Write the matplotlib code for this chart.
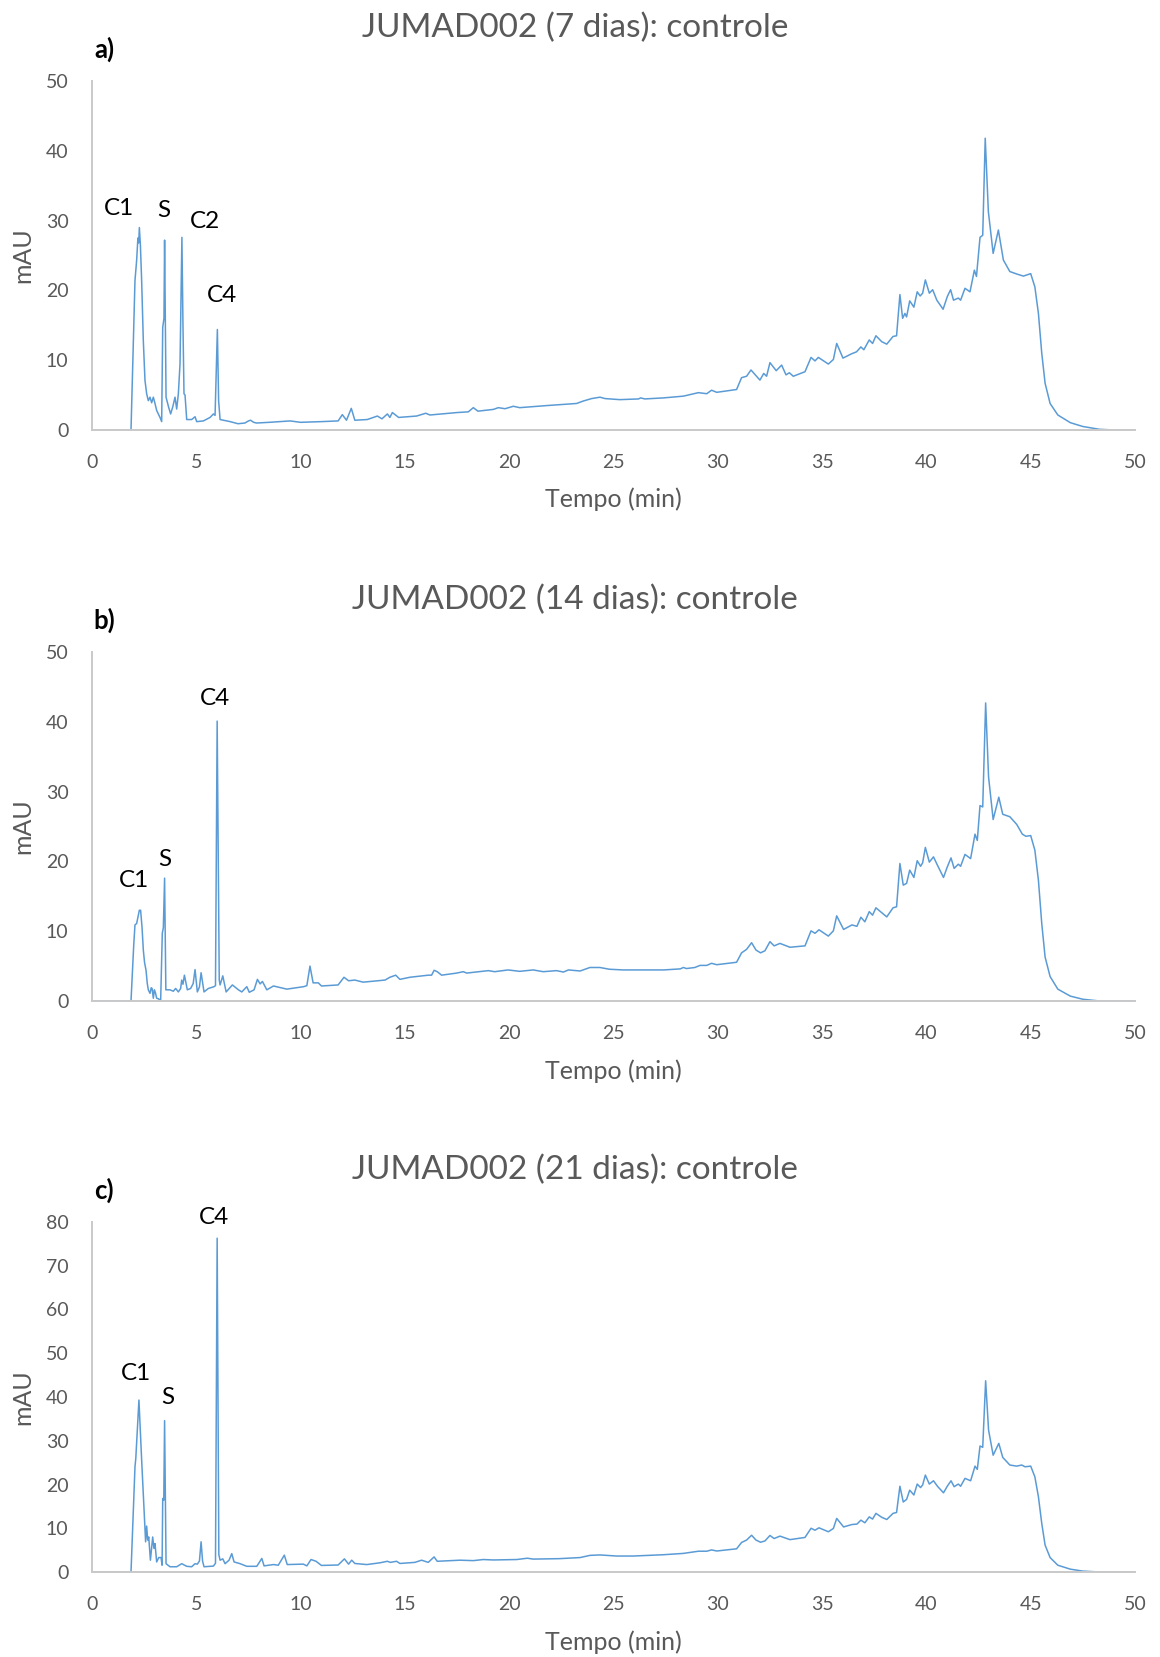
import matplotlib
matplotlib.use("Agg")
import matplotlib.pyplot as plt
import numpy as np

# chromatogram points (tempo in min, mAU)
t_a = [0, 1.87, 2.06, 2.14, 2.2, 2.24, 2.27, 2.32, 2.38, 2.46, 2.54, 2.62, 2.7, 2.78, 2.86, 2.94,
       3.02, 3.1, 3.18, 3.26, 3.34, 3.39, 3.45, 3.48, 3.55, 3.61, 3.67, 3.77, 3.87, 3.98, 4.06,
       4.14, 4.22, 4.28, 4.31, 4.36, 4.41, 4.46, 4.54, 4.78, 4.94, 5.02, 5.34, 5.66, 5.82, 5.9,
       6.01, 6.07, 6.14, 6.62, 7.0, 7.33, 7.5, 7.6, 7.75, 7.89, 8.5, 9.5, 10.0, 11.0, 11.8, 12.0,
       12.2, 12.43, 12.6, 13.2, 13.68, 13.9, 14.16, 14.28, 14.4, 14.7, 15.56, 16.0, 16.2, 17.5,
       18.04, 18.28, 18.5, 19.24, 19.48, 19.8, 20.2, 20.5, 21.8, 23.23, 23.55, 23.95, 24.35,
       24.6, 25.3, 26.2, 26.3, 26.5, 27.4, 28.35, 29.07, 29.47, 29.7, 29.95, 30.9, 31.14, 31.38,
       31.59, 32.02, 32.2, 32.34, 32.5, 32.8, 33.06, 33.27, 33.43, 33.62, 34.18, 34.47, 34.66,
       34.82, 35.3, 35.54, 35.7, 36.0, 36.4, 36.65, 36.86, 37.0, 37.26, 37.42, 37.58, 37.86,
       38.1, 38.4, 38.57, 38.73, 38.86, 38.97, 39.05, 39.2, 39.4, 39.56, 39.7, 39.82, 39.95,
       40.14, 40.3, 40.5, 40.8, 41.0, 41.16, 41.3, 41.53, 41.64, 41.85, 42.09, 42.3, 42.4,
       42.57, 42.7, 42.82, 42.97, 43.2, 43.45, 43.69, 44.0, 44.33, 44.65, 45.0, 45.2, 45.37,
       45.53, 45.69, 45.93, 46.3, 46.9, 47.5, 48.3, 49.0, 50.0]
y_a = [0, 0, 21.4, 24.3, 27.5, 26.8, 29.0, 26.5, 21.4, 12.8, 7.1, 5.2, 4.2, 4.7, 3.9, 4.7,
       3.8, 2.8, 2.3, 1.8, 1.2, 14.7, 16.0, 27.2, 4.7, 4.0, 3.3, 2.3, 3.3, 4.7, 3.0,
       5.2, 9.5, 21.4, 27.6, 15.2, 5.2, 5.0, 1.5, 1.5, 1.9, 1.2, 1.3, 1.8, 2.3, 2.1,
       14.4, 4.2, 1.5, 1.2, 0.9, 1.0, 1.3, 1.4, 1.1, 1.0, 1.1, 1.3, 1.1, 1.2, 1.3, 2.2,
       1.4, 3.1, 1.4, 1.5, 2.0, 1.6, 2.3, 1.8, 2.5, 1.8, 2.0, 2.4, 2.15, 2.5,
       2.6, 3.2, 2.7, 2.95, 3.2, 3.05, 3.4, 3.2, 3.5, 3.8, 4.15, 4.5, 4.7,
       4.5, 4.35, 4.45, 4.6, 4.45, 4.6, 4.85, 5.35, 5.2, 5.7, 5.4, 5.8, 7.5, 7.7,
       8.6, 7.15, 8.1, 7.7, 9.65, 8.5, 9.3, 7.9, 8.2, 7.7, 8.35, 10.4, 9.9,
       10.4, 9.45, 10.1, 12.4, 10.3, 10.9, 11.2, 11.9, 11.5, 12.9, 12.4, 13.5, 12.65,
       12.3, 13.4, 13.5, 19.4, 16.0, 16.7, 16.2, 18.5, 17.6, 19.8, 19.2, 19.6, 21.5,
       19.6, 20.1, 18.6, 17.3, 19.1, 20.1, 18.6, 18.9, 18.6, 20.3, 19.8, 22.9, 22.0,
       27.6, 27.9, 41.8, 31.3, 25.3, 28.65, 24.35, 22.7, 22.35, 22.05, 22.4, 20.5, 16.7,
       11.0, 6.7, 3.8, 2.15, 1.05, 0.5, 0.1, 0.0, 0.0]

t_b = [0, 1.87, 2.0, 2.06, 2.14, 2.2, 2.27, 2.33, 2.4, 2.46, 2.52, 2.59, 2.65, 2.7, 2.78, 2.84,
       2.88, 2.94, 2.99, 3.04, 3.1, 3.2, 3.29, 3.37, 3.42, 3.48, 3.54, 3.74, 3.9, 4.01, 4.14,
       4.25, 4.3, 4.36, 4.43, 4.57, 4.73, 4.85, 4.94, 5.05, 5.15, 5.23, 5.37, 5.58, 5.85, 5.92,
       6.0, 6.1, 6.14, 6.27, 6.43, 6.73, 7.02, 7.18, 7.42, 7.54, 7.77, 7.93, 8.06, 8.17, 8.38,
       8.7, 9.34, 10.14, 10.3, 10.45, 10.6, 10.85, 11.0, 11.8, 12.08, 12.3, 12.6, 13.0, 14.05,
       14.28, 14.56, 14.76, 15.24, 16.12, 16.28, 16.4, 16.55, 16.76, 17.48, 17.8, 17.96, 19.0,
       19.3, 19.95, 20.5, 21.15, 21.63, 22.27, 22.6, 22.84, 23.4, 23.87, 24.35, 24.8, 25.47,
       26.43, 27.4, 28.2, 28.35, 28.5, 28.9, 29.15, 29.47, 29.7, 29.95, 30.9, 31.14, 31.38,
       31.62, 31.83, 32.05, 32.26, 32.5, 32.7, 32.98, 33.46, 34.18, 34.47, 34.66, 34.85, 35.3,
       35.54, 35.7, 36.03, 36.43, 36.67, 36.86, 37.05, 37.26, 37.42, 37.58, 37.86, 38.1, 38.4,
       38.57, 38.73, 38.89, 39.05, 39.2, 39.4, 39.56, 39.72, 39.82, 39.95, 40.14, 40.34, 40.53,
       40.82, 41.0, 41.18, 41.33, 41.53, 41.64, 41.85, 42.12, 42.33, 42.44, 42.57, 42.7, 42.84,
       42.98, 43.2, 43.47, 43.66, 44.0, 44.33, 44.6, 44.77, 45.0, 45.2, 45.37, 45.53, 45.69,
       45.93, 46.3, 46.9, 47.5, 48.3, 50.0]
y_b = [0, 0, 8.0, 10.9, 11.1, 12.0, 13.0, 13.0, 10.5, 7.3, 5.5, 4.4, 2.5, 1.6, 1.1, 1.9,
       1.8, 0.4, 1.6, 1.2, 0.4, 0.3, -0.1, 9.7, 10.5, 17.6, 1.6, 1.6, 1.4, 1.8, 1.3,
       1.8, 3.0, 2.4, 3.7, 1.6, 1.8, 2.5, 4.5, 1.3, 2.0, 4.05, 1.3, 1.8, 2.05, 2.2,
       40.1, 3.0, 2.3, 3.6, 1.3, 2.3, 1.6, 1.3, 2.05, 1.25, 1.6, 3.1, 2.45, 2.8, 1.6,
       2.15, 1.7, 2.05, 2.2, 5.0, 2.6, 2.6, 2.15, 2.3, 3.4, 2.9, 3.0, 2.7, 3.0,
       3.4, 3.7, 3.1, 3.4, 3.7, 3.7, 4.4, 4.2, 3.7, 4.0, 4.2, 4.0, 4.35,
       4.2, 4.45, 4.25, 4.45, 4.2, 4.35, 4.15, 4.45, 4.3, 4.8, 4.8, 4.55, 4.45,
       4.45, 4.45, 4.6, 4.8, 4.65, 4.8, 5.1, 5.1, 5.4, 5.2, 5.55, 6.9, 7.4,
       8.35, 7.3, 6.9, 7.2, 8.5, 7.9, 8.25, 7.7, 7.9, 10.05, 9.7, 10.2, 9.3,
       10.05, 12.2, 10.25, 10.9, 10.7, 12.0, 11.35, 12.8, 12.3, 13.35, 12.65, 12.05, 13.35,
       13.5, 19.7, 16.6, 16.85, 18.75, 17.7, 20.1, 19.3, 19.8, 22.0, 19.9, 20.65, 19.45,
       17.7, 19.2, 20.5, 19.0, 19.6, 19.3, 21.0, 20.4, 23.9, 23.0, 28.0, 27.8, 42.7,
       32.1, 26.0, 29.2, 26.75, 26.4, 25.3, 23.9, 23.6, 23.7, 21.6, 17.3, 11.1, 6.3,
       3.5, 1.7, 0.7, 0.25, 0.0, 0.0]

t_c = [0, 1.87, 2.06, 2.1, 2.25, 2.38, 2.51, 2.57, 2.62, 2.67, 2.72, 2.8, 2.91, 2.97, 3.02,
       3.1, 3.2, 3.31, 3.36, 3.39, 3.44, 3.48, 3.55, 3.74, 4.06, 4.3, 4.54, 4.78, 4.94, 5.05,
       5.15, 5.23, 5.3, 5.37, 5.82, 5.92, 6.0, 6.08, 6.14, 6.27, 6.38, 6.57, 6.7, 6.81, 7.1,
       7.42, 7.9, 8.14, 8.25, 8.7, 8.93, 9.22, 9.36, 10.13, 10.3, 10.5, 10.74, 11.0, 11.8,
       12.1, 12.3, 12.45, 12.6, 13.17, 13.8, 14.16, 14.3, 14.6, 14.76, 15.48, 15.8, 16.12,
       16.4, 16.55, 17.64, 18.28, 18.76, 19.24, 20.36, 20.87, 21.15, 22.4, 23.4, 23.87, 24.35,
       25.15, 25.95, 27.4, 28.35, 29.07, 29.47, 29.7, 29.95, 30.9, 31.14, 31.38, 31.62, 31.83,
       32.05, 32.26, 32.5, 32.7, 32.98, 33.46, 34.18, 34.47, 34.66, 34.85, 35.3, 35.54, 35.7,
       36.03, 36.43, 36.67, 36.86, 37.05, 37.26, 37.42, 37.58, 37.86, 38.1, 38.4, 38.57, 38.73,
       38.89, 39.05, 39.2, 39.4, 39.56, 39.72, 39.82, 39.95, 40.14, 40.34, 40.53, 40.82, 41.0,
       41.18, 41.33, 41.53, 41.64, 41.85, 42.12, 42.33, 42.44, 42.57, 42.7, 42.84, 42.98, 43.2,
       43.47, 43.66, 44.0, 44.33, 44.57, 44.73, 45.0, 45.2, 45.37, 45.53, 45.69, 45.93, 46.3,
       46.9, 47.5, 48.3, 50.0]
y_c = [0, 0, 24.0, 26.0, 39.3, 25.6, 12.6, 6.9, 10.5, 7.3, 8.0, 2.7, 8.0, 5.4, 6.5,
       2.3, 3.3, 3.3, 1.55, 16.8, 16.4, 34.6, 1.9, 1.2, 1.2, 1.9, 1.3, 1.2, 1.9, 1.8,
       2.5, 6.9, 2.5, 1.2, 1.35, 2.0, 76.3, 4.0, 2.7, 3.0, 1.9, 2.7, 4.2, 2.3, 1.9,
       1.3, 1.3, 3.1, 1.4, 1.7, 1.55, 3.85, 1.7, 1.8, 1.4, 2.85, 2.45, 1.5, 1.6,
       3.0, 1.8, 2.7, 1.95, 1.7, 2.1, 2.45, 2.2, 2.45, 1.95, 2.2, 2.7, 2.2,
       3.45, 2.45, 2.7, 2.6, 2.85, 2.75, 2.85, 3.15, 2.95, 3.05, 3.3, 3.8, 3.9,
       3.65, 3.65, 3.95, 4.25, 4.75, 4.75, 5.05, 4.8, 5.3, 6.75, 7.3, 8.4, 7.3,
       6.8, 7.1, 8.35, 7.65, 8.2, 7.4, 7.9, 10.0, 9.55, 10.1, 9.2, 9.95, 12.25,
       10.3, 10.85, 10.95, 11.85, 11.25, 12.6, 12.1, 13.4, 12.5, 12.0, 13.4, 13.6, 19.6,
       16.0, 16.6, 18.7, 17.6, 20.1, 19.3, 19.9, 22.15, 20.1, 20.85, 19.6, 18.1, 19.6,
       20.85, 19.5, 20.1, 19.6, 21.4, 20.85, 24.2, 23.45, 28.8, 28.5, 43.7, 32.45, 26.7,
       29.4, 26.2, 24.45, 24.2, 24.45, 24.05, 24.2, 21.75, 17.2, 11.1, 6.15, 3.3, 1.55,
       0.65, 0.2, 0.0, 0.0]

titles = ["JUMAD002 (7 dias): controle", "JUMAD002 (14 dias): controle", "JUMAD002 (21 dias): controle"]
panel_letters = ["a)", "b)", "c)"]
y_max = [50, 50, 80]
y_step = [10, 10, 10]
peak_labels = [
    [("C1", 1.30, 31.7), ("S", 3.44, 31.5), ("C2", 5.42, 29.8), ("C4", 6.21, 19.2)],
    [("C1", 1.99, 17.2), ("S", 3.48, 20.3), ("C4", 5.90, 43.4)],
    [("C1", 2.10, 45.4), ("S", 3.63, 39.8), ("C4", 5.87, 81.1)],
]
series = [(t_a, y_a), (t_b, y_b), (t_c, y_c)]

W, H = 1160, 1657
plt.rcParams["font.family"] = ["Lato", "DejaVu Sans"]
fig = plt.figure(figsize=(W / 100, H / 100), dpi=100)

# axes boxes in pixels: left, right, top, bottom
boxes = [(92, 1135, 81, 430), (92, 1135, 652, 1001), (92, 1135, 1222, 1572)]
title_y = [28, 600, 1170]
letter_y = [49, 620, 1190]
xlabel_y = [499, 1071, 1642]

gray = "#595959"
blue = "#5B9BD5"

for i, (t, y) in enumerate(series):
    l, r, top, bot = boxes[i]
    ax = fig.add_axes([l / W, 1 - bot / H, (r - l) / W, (bot - top) / H])
    ax.plot(t, y, color=blue, lw=1.1)
    ax.set_xlim(0, 50)
    ax.set_ylim(0, y_max[i])
    ax.set_xticks(np.arange(0, 51, 5))
    ax.set_yticks(np.arange(0, y_max[i] + 1, y_step[i]))
    for s in ["top", "right"]:
        ax.spines[s].set_visible(False)
    for s in ["left", "bottom"]:
        ax.spines[s].set_color("#C9C9C9")
        ax.spines[s].set_linewidth(1.4)
    ax.tick_params(axis="both", length=0, labelsize=14, labelcolor=gray)
    ax.tick_params(axis="x", pad=17)
    ax.tick_params(axis="y", pad=17)
    for name, px, py in peak_labels[i]:
        ax.text(px, py, name, fontsize=17.5, color="black", ha="center", va="center", clip_on=False)

    fig.text(575 / W, 1 - title_y[i] / H, titles[i], fontsize=24, color=gray, ha="center", va="center")
    fig.text(104 / W, 1 - letter_y[i] / H, panel_letters[i], fontsize=18.5, fontweight="bold",
             color="black", ha="center", va="center")
    fig.text(613 / W, 1 - xlabel_y[i] / H, "Tempo (min)", fontsize=18, color=gray, ha="center", va="center")
    fig.text(23 / W, 1 - ((top + bot) / 2) / H, "mAU", fontsize=18, color=gray, rotation=90,
             ha="center", va="center")

fig.savefig("out.png", dpi=100, facecolor="white")
